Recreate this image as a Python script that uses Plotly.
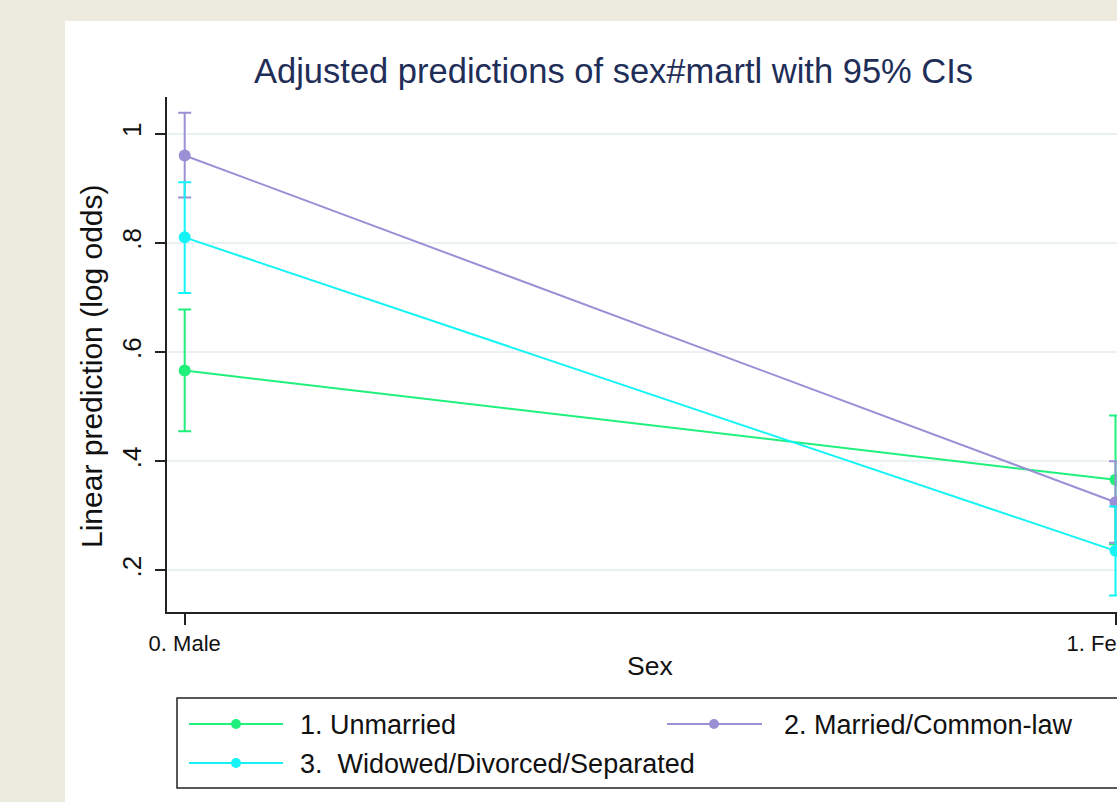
import plotly.graph_objects as go

# Categories on the x axis
sex_codes = [0, 1]
sex_labels = ["0. Male", "1. Female"]

# Marital status groups
group_names = ["1. Unmarried", "2. Married/Common-law", "3.  Widowed/Divorced/Separated"]
group_colors = ["#1FF07C", "#9B90D6", "#14F3F6"]

# Linear predictions (log odds) with 95% confidence limits, Male then Female
pred_unmarried = [0.566, 0.366]
lo_unmarried = [0.455, 0.248]
hi_unmarried = [0.678, 0.484]

pred_married = [0.960, 0.325]
lo_married = [0.883, 0.251]
hi_married = [1.038, 0.400]

pred_widowed = [0.810, 0.236]
lo_widowed = [0.708, 0.154]
hi_widowed = [0.911, 0.317]

y_tick_vals = [0.2, 0.4, 0.6, 0.8, 1.0]
y_tick_text = [".2", ".4", ".6", ".8", "1"]

FONT = "Liberation Sans, Arial, Helvetica, sans-serif"
W, H = 1117, 802
L, T, B, R = 167, 97, 190, 0
PW, PH = W - L - R, H - T - B


def px(x):
    return (x - L) / PW


def py(y):
    return (H - B - y) / PH


fig = go.Figure()

series = [
    (pred_unmarried, lo_unmarried, hi_unmarried),
    (pred_married, lo_married, hi_married),
    (pred_widowed, lo_widowed, hi_widowed),
]

for name, color, (pred, lo, hi) in zip(group_names, group_colors, series):
    fig.add_trace(go.Scatter(
        x=sex_codes, y=pred, name=name, mode="lines+markers",
        line=dict(color=color, width=2),
        marker=dict(color=color, size=12),
        error_y=dict(
            type="data", symmetric=False,
            array=[h - p for h, p in zip(hi, pred)],
            arrayminus=[p - l for p, l in zip(pred, lo)],
            color=color, thickness=2, width=6.5,
        ),
        cliponaxis=False, showlegend=False,
    ))

shapes = [
    # white graph region on the beige page
    dict(type="rect", xref="paper", yref="paper", layer="below",
         x0=px(65), x1=px(1200), y0=py(900), y1=py(21),
         fillcolor="white", line=dict(width=0)),
    # legend frame
    dict(type="rect", xref="paper", yref="paper",
         x0=px(177), x1=px(1124), y0=py(788), y1=py(698),
         fillcolor="rgba(0,0,0,0)", line=dict(color="#222222", width=1.5)),
]
annotations = []

# legend entries: two columns, two rows
legend_slots = [(189, 283, 236, 724, 298), (667, 762, 714, 724, 782), (189, 283, 236, 763, 298)]
for name, color, (x0, x1, xm, yrow, xt) in zip(group_names, group_colors, legend_slots):
    shapes.append(dict(type="line", xref="paper", yref="paper",
                       x0=px(x0), x1=px(x1), y0=py(yrow), y1=py(yrow),
                       line=dict(color=color, width=2)))
    shapes.append(dict(type="circle", xref="paper", yref="paper",
                       xsizemode="pixel", ysizemode="pixel",
                       xanchor=px(xm), yanchor=py(yrow),
                       x0=-5, x1=5, y0=-5, y1=5,
                       fillcolor=color, line=dict(color=color, width=0)))
    annotations.append(dict(text=name.replace("  ", "\u00a0 "), xref="paper", yref="paper",
                            x=px(xt), y=py(yrow + 1), xanchor="left", yanchor="middle",
                            showarrow=False, font=dict(family=FONT, size=27, color="#111111")))

annotations += [
    dict(text="Adjusted predictions of sex#martl with 95% CIs", xref="paper", yref="paper",
         x=px(613.5), y=py(71), xanchor="center", yanchor="middle", showarrow=False,
         font=dict(family=FONT, size=34.5, color="#1F2E58")),
    dict(text="Linear prediction (log odds)", xref="paper", yref="paper",
         x=px(91), y=py(366), xanchor="center", yanchor="middle", textangle=-90,
         showarrow=False, font=dict(family=FONT, size=30, color="#111111")),
    dict(text="Sex", xref="x", yref="paper",
         x=0.5, y=py(666), xanchor="center", yanchor="middle", showarrow=False,
         font=dict(family=FONT, size=26.5, color="#111111")),
]

fig.update_layout(
    width=W, height=H,
    margin=dict(l=L, r=R, t=T, b=B, pad=0, autoexpand=False),
    paper_bgcolor="#EDEAE0", plot_bgcolor="white",
    font=dict(family=FONT, color="#111111"),
    shapes=shapes, annotations=annotations,
    showlegend=False,
)

fig.update_xaxes(
    range=[-0.019, 1.0016], tickvals=sex_codes, ticktext=sex_labels,
    ticks="outside", ticklen=11, tickwidth=1.5, tickcolor="#222222",
    showline=True, linecolor="#222222", linewidth=1.5, automargin=False,
    showgrid=False, zeroline=False, ticklabeloverflow="allow",
    tickfont=dict(family=FONT, size=22, color="#111111"),
)
fig.update_yaxes(
    range=[0.124, 1.067], tickvals=y_tick_vals, ticktext=y_tick_text, tickangle=-90,
    ticks="outside", ticklen=10, tickwidth=1.5, tickcolor="#222222",
    showline=True, linecolor="#222222", linewidth=1.5, automargin=False,
    showgrid=True, gridcolor="#EAF1F3", gridwidth=1.5, zeroline=False,
    ticklabelstandoff=4,
    tickfont=dict(family=FONT, size=26, color="#111111"),
)

fig.write_html("out.html")
